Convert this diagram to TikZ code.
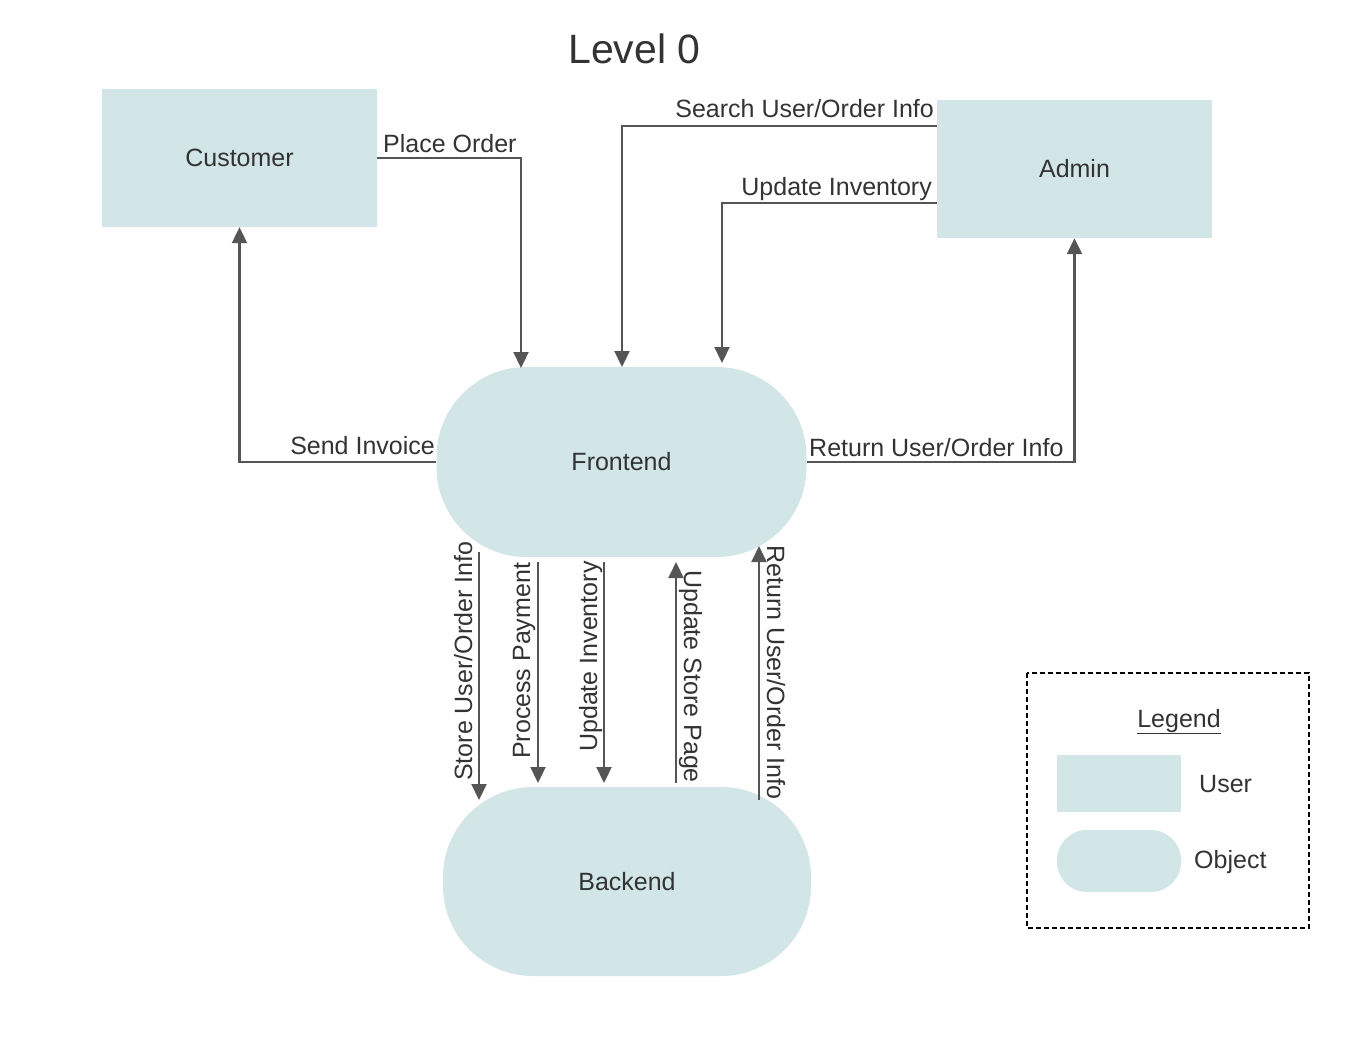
\documentclass[tikz,border=0pt]{standalone}
\usepackage{fontspec}
\setmainfont{Liberation Sans}
\usetikzlibrary{arrows.meta,calc}
\definecolor{boxfill}{RGB}{210,229,231}
\definecolor{txt}{RGB}{51,51,51}
\definecolor{linec}{RGB}{85,85,85}
\begin{document}
\begin{tikzpicture}[x=1pt,y=-1pt,
  every node/.style={text=txt, inner sep=0pt},
  userbox/.style={fill=boxfill, minimum width=275pt, minimum height=138pt, font=\fontsize{25}{29}\selectfont},
  objbox/.style={fill=boxfill, rounded corners=90pt, font=\fontsize{25}{29}\selectfont},
  flow/.style={draw=linec, line width=2.2pt, -{Triangle[length=16pt,width=15pt]}},
  lbl/.style={font=\fontsize{25}{29}\selectfont}
]
\useasboundingbox (0,0) rectangle (1348,1050);
% title
\node[font=\fontsize{41}{47}\selectfont, anchor=base west] (title) at (568,63) {Level 0};
% nodes
\node[userbox] (Customer) at (239.5,158) {Customer};
\node[userbox] (Admin) at (1074.5,169) {Admin};
\node[objbox, minimum width=370pt, minimum height=190pt] (Frontend) at (621.5,462) {Frontend};
\node[objbox, minimum width=368pt, minimum height=189pt] (Backend) at (627,881.5) {Backend};
% coordinates
\coordinate (FEpo) at (521,368);
\coordinate (FEsu) at (622,367);
\coordinate (FEui) at (722,363);
\coordinate (s1a) at (479,552); \coordinate (s1b) at (479,800);
\coordinate (s2a) at (538,562); \coordinate (s2b) at (538,783);
\coordinate (s3a) at (604,562); \coordinate (s3b) at (604,783);
\coordinate (s4a) at (676,783); \coordinate (s4b) at (676,562);
\coordinate (s5a) at (759,800); \coordinate (s5b) at (759,546);
% connectors
\draw[flow] (Customer.east) -| (FEpo);
\draw[flow] ([yshift=43pt]Admin.west) -| (FEsu);
\draw[flow] ([yshift=-34pt]Admin.west) -| (FEui);
\draw[flow] (Frontend.west) -| (Customer.south);
\draw[flow] (Frontend.east) -| (Admin.south);
\draw[flow] (s1a) -- (s1b);
\draw[flow] (s2a) -- (s2b);
\draw[flow] (s3a) -- (s3b);
\draw[flow] (s4a) -- (s4b);
\draw[flow] (s5a) -- (s5b);
% labels
\node[lbl, anchor=base west] (lpo) at (383,152) {Place Order};
\node[lbl, anchor=base east] (lsu) at (934,117) {Search User/Order Info};
\node[lbl, anchor=base east] (lui) at (932,195) {Update Inventory};
\node[lbl, anchor=base east] (lsi) at (435,454) {Send Invoice};
\node[lbl, anchor=base west] (lru) at (809,456) {Return User/Order Info};
\node[lbl, anchor=base west, rotate=90] (l1) at (472,781) {Store User/Order Info};
\node[lbl, anchor=base west, rotate=90] (l2) at (530,759) {Process Payment};
\node[lbl, anchor=base west, rotate=90] (l3) at (597,752) {Update Inventory};
\node[lbl, anchor=base west, rotate=-90] (l4) at (684,570) {Update Store Page};
\node[lbl, anchor=base west, rotate=-90] (l5) at (767,545) {Return User/Order Info};
% legend
\draw[black, line width=1.4pt, dash pattern=on 5pt off 3pt] (1027,673) rectangle (1309,928);
\node[lbl, anchor=base] (leg) at (1179,727) {\underline{Legend}};
\node[fill=boxfill, minimum width=124pt, minimum height=57pt] (legU) at (1119,783.5) {};
\node[fill=boxfill, minimum width=124pt, minimum height=62pt, rounded corners=30pt] (legO) at (1119,861) {};
\node[lbl, anchor=base west] (legUt) at (1199,792) {User};
\node[lbl, anchor=base west] (legOt) at (1194,868) {Object};
\end{tikzpicture}
\end{document}
